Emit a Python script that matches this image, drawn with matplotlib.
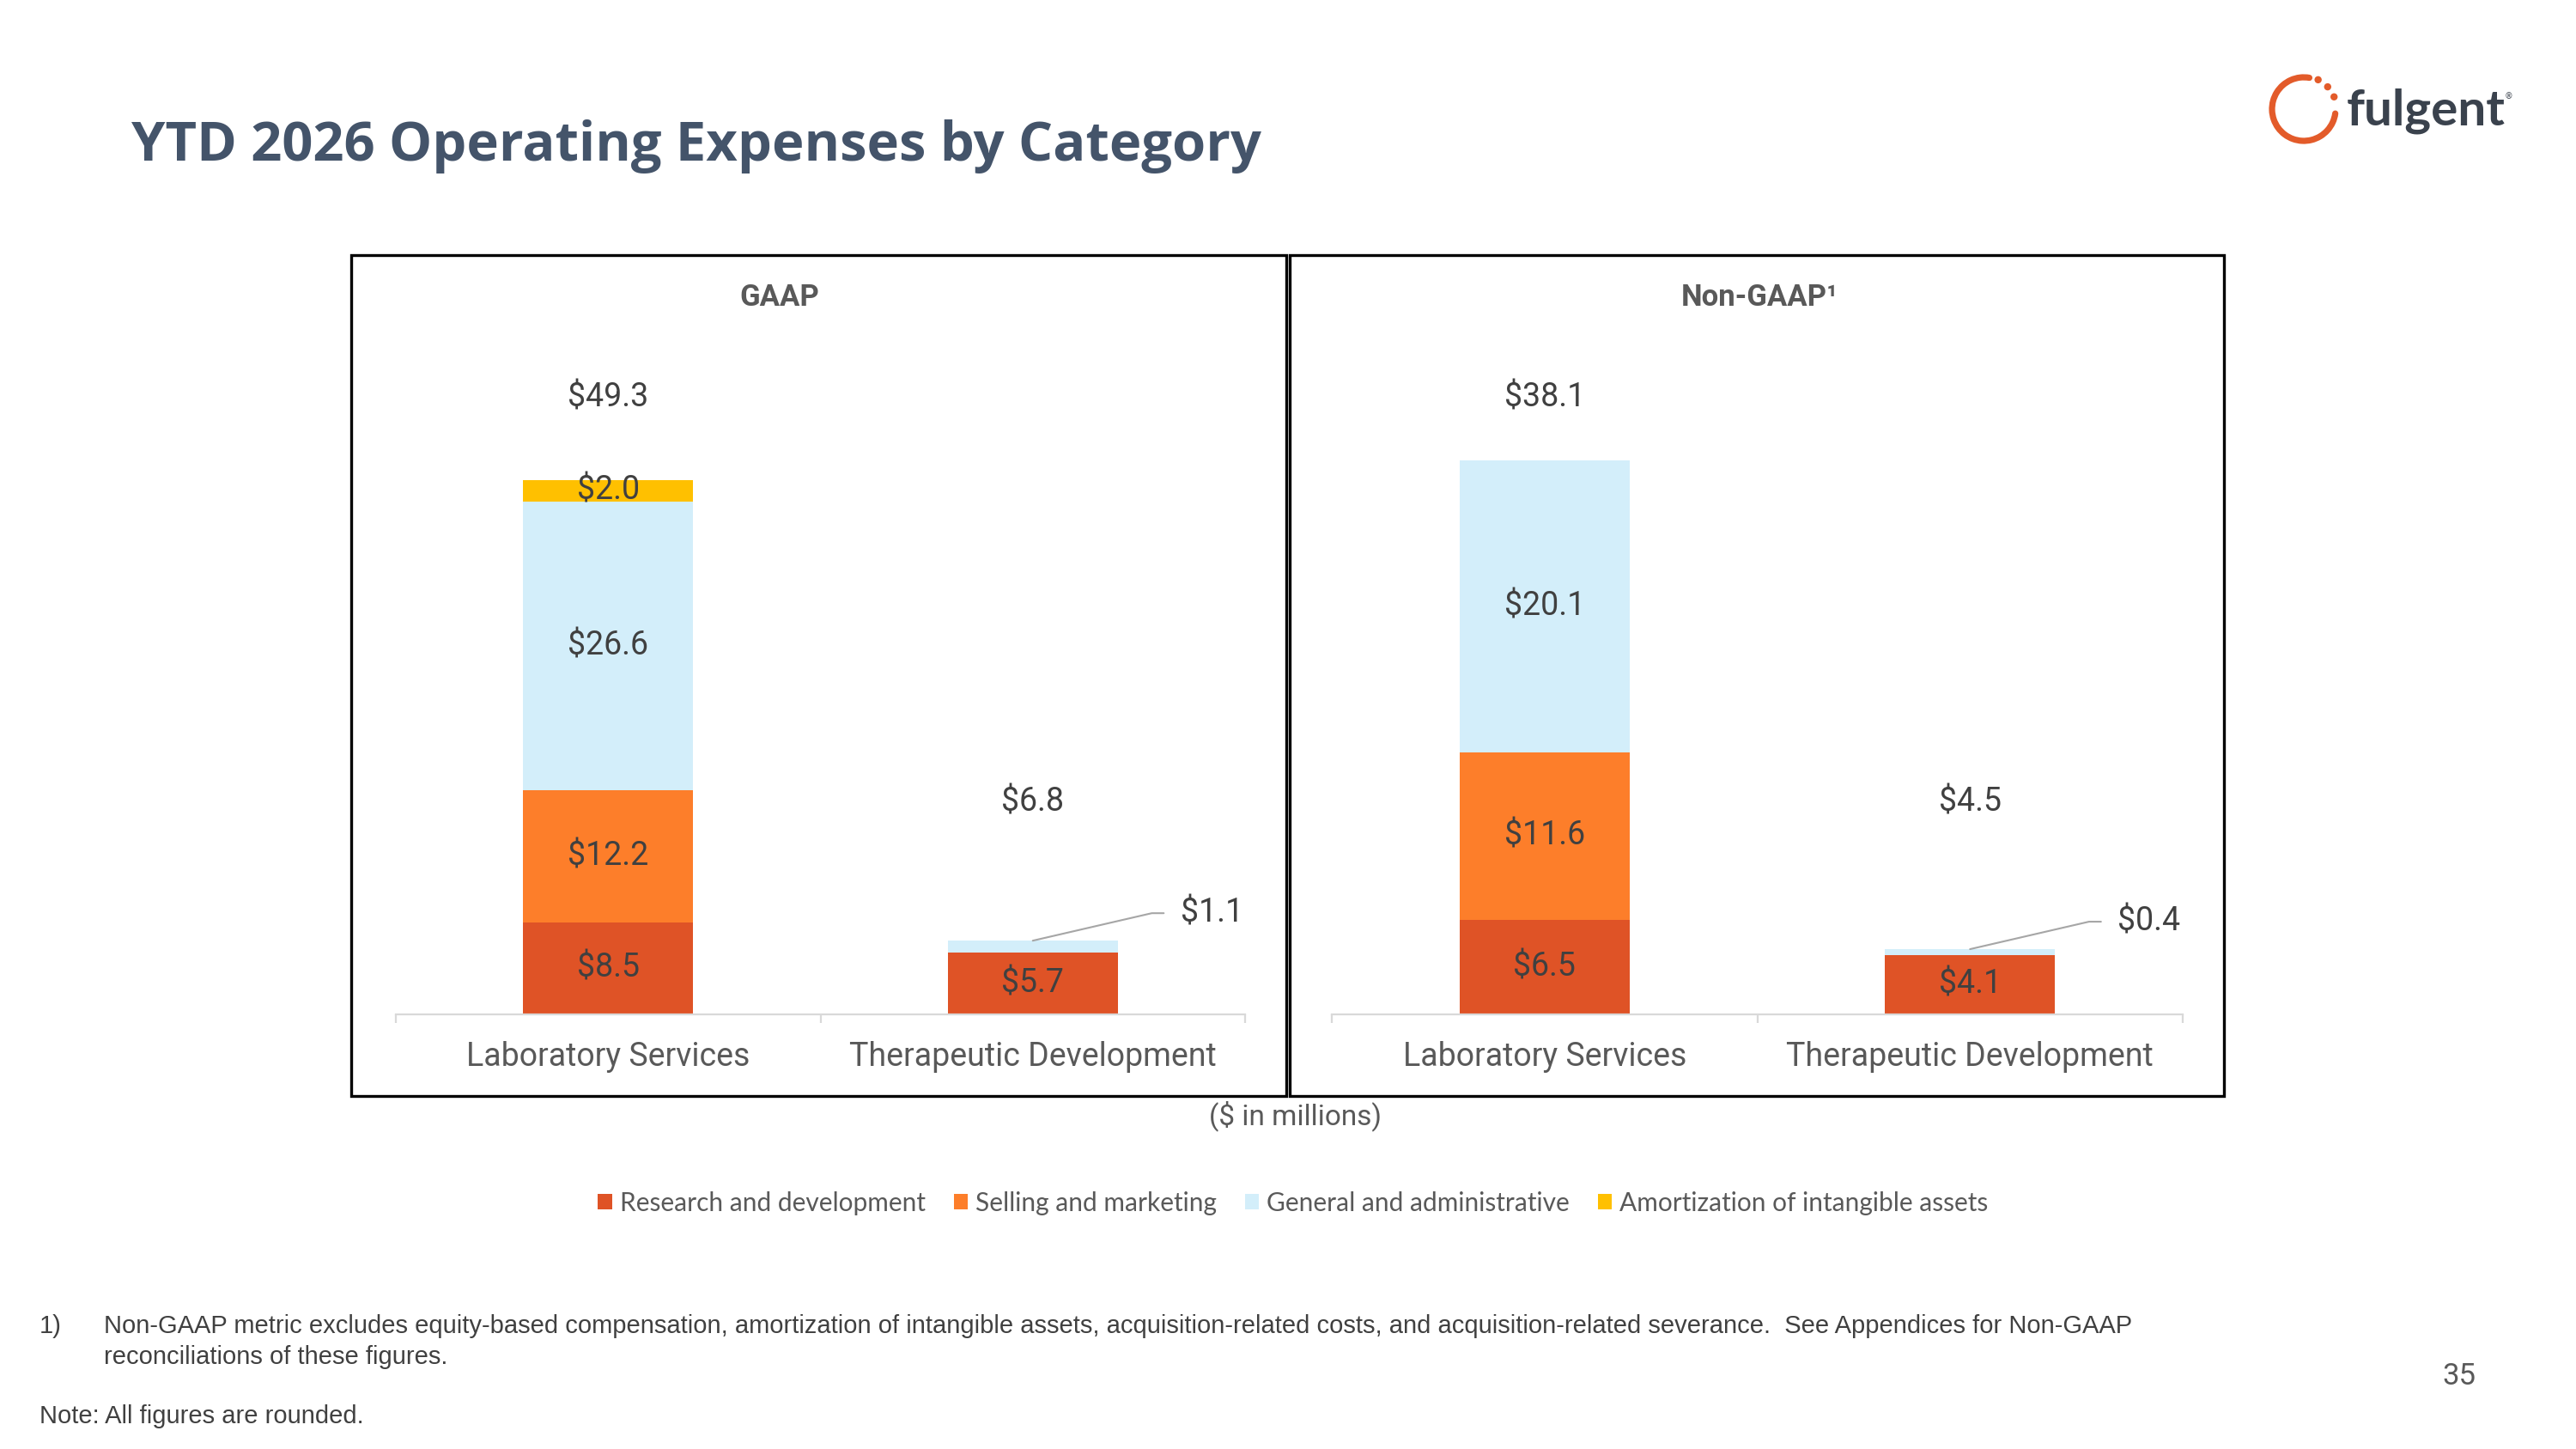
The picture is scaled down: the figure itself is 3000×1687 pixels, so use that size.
import matplotlib
matplotlib.use('Agg')
import matplotlib.pyplot as plt
import matplotlib.transforms as mtransforms
from matplotlib.patches import Rectangle, Patch, Arc, Circle
import numpy as np

plt.rcParams['text.parse_math'] = False

categories = ['Laboratory Services', 'Therapeutic Development']
series_names = ['Research and development', 'Selling and marketing',
                'General and administrative', 'Amortization of intangible assets']
series_colors = ['#DF5326', '#FD7E2A', '#D3EEFA', '#FFC000']

gaap_rd = [8.5, 5.7]
gaap_sm = [12.2, 0.0]
gaap_ga = [26.6, 1.1]
gaap_amort = [2.0, 0.0]
gaap_total = [49.3, 6.8]

nongaap_rd = [6.5, 4.1]
nongaap_sm = [11.6, 0.0]
nongaap_ga = [20.1, 0.4]
nongaap_amort = [0.0, 0.0]
nongaap_total = [38.1, 4.5]

W, H = 3000, 1687
fig = plt.figure(figsize=(W / 100, H / 100), dpi=100)
fig.patch.set_facecolor('white')


def fx(px):
    return px / W


def fy(py):
    return 1 - py / H


LABEL = '#404040'
GREY = '#595959'


def draw_panel(left, right, ymax, stacks, totals):
    ax = fig.add_axes([fx(left), fy(1181), fx(right) - fx(left), (1181 - 420) / H])
    x = np.arange(len(categories))
    bottom = np.zeros(len(categories))
    for k, vals in enumerate(stacks):
        vals = np.array(vals, dtype=float)
        ax.bar(x, vals, width=0.4, bottom=bottom, color=series_colors[k], zorder=2)
        for i, v in enumerate(vals):
            if v <= 0:
                continue
            if v < 1.5:
                # small slice: label off to the side with a leader line
                ax.annotate(f'${v:.1f}', xy=(x[i], bottom[i] + v), xytext=(172, 32),
                            textcoords='offset pixels', ha='left', va='center',
                            fontsize=27, color=LABEL, family='Roboto',
                            arrowprops=dict(arrowstyle='-', color='#A6A6A6', lw=1.5,
                                            shrinkA=12, shrinkB=0, relpos=(0, 0.5),
                                            connectionstyle='angle,angleA=0,angleB=13,rad=0'))
            else:
                ax.text(x[i], bottom[i] + v / 2, f'${v:.1f}', ha='center', va='center',
                        fontsize=27, color=LABEL, family='Roboto', zorder=3)
        bottom += vals

    # totals sit at fixed heights in the panel
    tr = mtransforms.blended_transform_factory(ax.transData, ax.transAxes)
    for i, t in enumerate(totals):
        ax.text(x[i], [0.943, 0.325][i], f'${t:.1f}', transform=tr, ha='center', va='center',
                fontsize=27, color=LABEL, family='Roboto')

    ax.set_xlim(-0.5, 1.5)
    ax.set_ylim(0, ymax)
    for s in ['top', 'right', 'left']:
        ax.spines[s].set_visible(False)
    ax.spines['bottom'].set_color('#D9D9D9')
    ax.spines['bottom'].set_linewidth(1.6)
    ax.set_yticks([])
    ax.set_xticks(x)
    ax.set_xticklabels(categories, fontsize=27, color=GREY, family='Roboto')
    ax.tick_params(axis='x', which='major', length=0, pad=22)
    ax.set_xticks([-0.5, 0.5, 1.5], minor=True)
    ax.tick_params(axis='x', which='minor', length=7.5, color='#D9D9D9', width=1.6)
    ax.patch.set_visible(False)
    return ax


draw_panel(461, 1450, 60.3, [gaap_rd, gaap_sm, gaap_ga, gaap_amort], gaap_total)
draw_panel(1551, 2542, 45.1, [nongaap_rd, nongaap_sm, nongaap_ga, nongaap_amort], nongaap_total)

# panel frames
for l, r in [(409, 1498), (1502, 2590)]:
    fig.add_artist(Rectangle((fx(l), fy(1276)), fx(r) - fx(l), (1276 - 297) / H,
                             transform=fig.transFigure, fill=False, ec='black', lw=2.4))

fig.text(fx(908), fy(347), 'GAAP', ha='center', va='center', fontsize=25,
         fontweight='bold', color=GREY, family='Roboto')
fig.text(fx(2049), fy(347), 'Non-GAAP¹', ha='center', va='center', fontsize=25,
         fontweight='bold', color=GREY, family='Roboto')
fig.text(fx(1509), fy(1299), '($ in millions)', ha='center', va='center', fontsize=24,
         color=GREY, family='Roboto')

# title
fig.text(fx(153), fy(187), 'YTD 2026 Operating Expenses by Category', ha='left', va='baseline',
         fontsize=45.5, fontweight='bold', color='#44546A', family='Open Sans')

# legend
handles = [Patch(facecolor=c, edgecolor='none') for c in series_colors]
fig.legend(handles, series_names, loc='center', bbox_to_anchor=(fx(1506), fy(1401)), ncol=4,
           frameon=False, prop={'family': 'Lato', 'size': 21.5}, labelcolor=GREY,
           handlelength=0.55, handleheight=0.55, handletextpad=0.3, columnspacing=1.1)

# footnotes
foot = dict(fontsize=21, color='#404040', family='Liberation Sans', va='center', ha='left')
fig.text(fx(46), fy(1544), '1)', **foot)
fig.text(fx(121), fy(1544), 'Non-GAAP metric excludes equity-based compensation, amortization of intangible '
         'assets, acquisition-related costs, and acquisition-related severance.  See Appendices for Non-GAAP', **foot)
fig.text(fx(121), fy(1580), 'reconciliations of these figures.', **foot)
fig.text(fx(46), fy(1649), 'Note: All figures are rounded.', **foot)
fig.text(fx(2864), fy(1603), '35', ha='center', va='center', fontsize=25, color=GREY, family='Roboto')

# logo
lax = fig.add_axes([0, 0, 1, 1], zorder=-1)
lax.set_xlim(0, W)
lax.set_ylim(0, H)
lax.axis('off')
cx, cy = 2683, H - 127
ring = Arc((cx, cy), 74, 74, theta1=80, theta2=352, color='#E35B2A', lw=5.2, capstyle='round')
lax.add_patch(ring)
for ang in [64, 43, 22]:
    a = np.radians(ang)
    lax.add_patch(Circle((cx + 38 * np.cos(a), cy + 38 * np.sin(a)), 4.2, color='#E35B2A', lw=0))
fig.text(fx(2733), fy(145), 'fulgent', ha='left', va='baseline', fontsize=42,
         fontweight='bold', color='#3A424D', family='Lato')
fig.text(fx(2921), fy(112), '®', ha='center', va='center', fontsize=7, color='#3D4550')

fig.savefig('out.png', dpi=100, facecolor='white')
